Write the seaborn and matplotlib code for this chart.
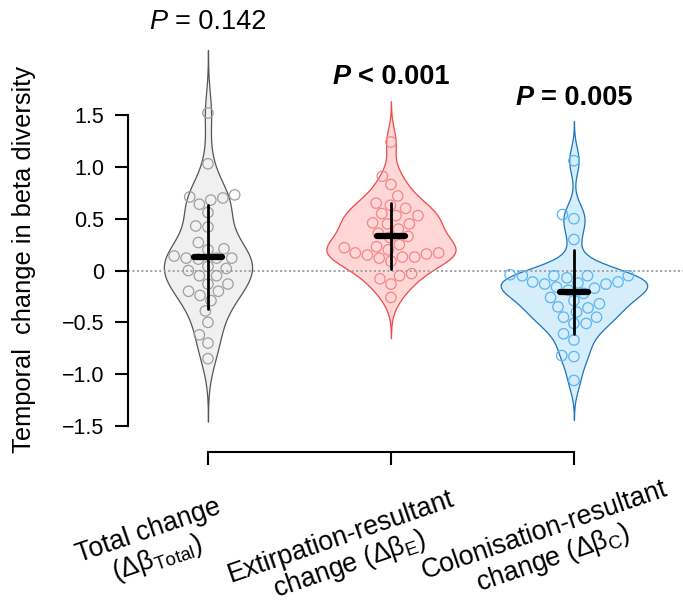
import numpy as np
import pandas as pd
import matplotlib
matplotlib.use("Agg")
import matplotlib.pyplot as plt
import seaborn as sns
from matplotlib.markers import MarkerStyle
from matplotlib.offsetbox import TextArea, HPacker, AnnotationBbox
from matplotlib.transforms import ScaledTranslation

# ---------------------------------------------------------------------------
# Data
# ---------------------------------------------------------------------------
groups = ["Total", "Extirpation", "Colonisation"]
tick_labels = [
    "Total change\n(Δβ$_{\\mathrm{Total}}$)",
    "Extirpation-resultant\nchange (Δβ$_{\\mathrm{E}}$)",
    "Colonisation-resultant\nchange (Δβ$_{\\mathrm{C}}$)",
]

total_change = [1.52, 1.03, 0.71, 0.64, 0.68, 0.70, 0.73, 0.56, 0.43, 0.42,
                0.27, 0.20, 0.21, 0.12, 0.11, 0.02, 0.12, 0.14, 0.12, 0.04,
                0.00, -0.05, -0.05, -0.13, -0.13, -0.24, -0.20, -0.29, -0.20,
                -0.39, -0.50, -0.62, -0.70, -0.85]
extirpation_change = [1.24, 0.91, 0.83, 0.72, 0.60, 0.55, 0.53, 0.45, 0.63,
                      0.65, 0.53, 0.45, 0.46, 0.40, 0.36, 0.32, 0.33, 0.23,
                      0.16, 0.12, 0.13, 0.17, 0.20, 0.13, 0.22, 0.15, 0.09,
                      0.25, 0.17, -0.03, -0.05, -0.08, -0.13, -0.26]
colonisation_change = [1.06, 0.54, 0.50, 0.30, -0.05, -0.04, -0.07, -0.05,
                       -0.12, -0.16, -0.17, -0.13, -0.13, -0.22, -0.19, -0.11,
                       -0.05, -0.05, -0.11, -0.26, -0.29, -0.32, -0.35, -0.36,
                       -0.40, -0.51, -0.45, -0.51, -0.45, -0.61, -0.67, -0.82,
                       -0.83, -1.06]

p_signs = ["=", "<", "="]
p_values = ["0.142", "0.001", "0.005"]
p_bold = [False, True, True]

yticks = [-1.5, -1.0, -0.5, 0, 0.5, 1.0, 1.5]

# styling
fill_colors = ["#f0f0f0", "#ffd7d7", "#d6edfc"]
edge_colors = ["#555555", "#f04848", "#1b74bd"]
point_colors = ["#9f9f9f", "#f58686", "#5ab6f3"]

df = pd.DataFrame({
    "group": np.repeat(groups, [len(total_change), len(extirpation_change),
                                len(colonisation_change)]),
    "value": np.concatenate([total_change, extirpation_change,
                             colonisation_change]),
})


def nrd0(kde):
    # Silverman's rule of thumb (as in R's bw.nrd0), returned as a factor
    x = kde.dataset[0]
    sd = np.std(x, ddof=1)
    iqr = np.subtract(*np.percentile(x, [75, 25]))
    h = 0.9 * min(sd, iqr / 1.34) * len(x) ** -0.2
    return h / sd


sns.set_style("ticks")
plt.rcParams["font.family"] = ["Liberation Sans", "DejaVu Sans"]
plt.rcParams["mathtext.fontset"] = "custom"
plt.rcParams["mathtext.rm"] = "Liberation Sans"
plt.rcParams["mathtext.it"] = "Liberation Sans:italic"
plt.rcParams["mathtext.bf"] = "Liberation Sans:bold"
for key in ["text.color", "axes.labelcolor", "xtick.color", "ytick.color"]:
    plt.rcParams[key] = "black"

fig = plt.figure(figsize=(6.83, 6.0), dpi=100)
ax = fig.add_axes([0.1874, 0.2813, 0.8126, 0.6565])

# violins
sns.violinplot(data=df, x="group", y="value", hue="group", palette=fill_colors,
               legend=False, inner=None, cut=3, bw_method=nrd0,
               density_norm="area", common_norm=True, width=0.8,
               linewidth=0.9, saturation=1, ax=ax)
for coll, ec in zip(ax.collections, edge_colors):
    coll.set_edgecolor(ec)

# zero line
ax.axhline(0, color="#a0a0a0", linestyle=(0, (1, 1.3)), linewidth=1.4,
           zorder=2.5)

# points (hollow)
n0 = len(ax.collections)
sns.swarmplot(data=df, x="group", y="value", hue="group", palette=point_colors,
              legend=False, size=7.5, zorder=3, ax=ax)
for coll in ax.collections[n0:]:
    fc = coll.get_facecolors()
    coll.set_edgecolors(fc)
    coll.set_facecolors("none")
    coll.set_linewidths(0.9)

# mean +/- sd
sns.pointplot(data=df, x="group", y="value", errorbar="sd", color="black",
              marker=MarkerStyle("_", capstyle="round"), markersize=20,
              markeredgewidth=4.5, linestyle="none", zorder=5,
              err_kws={"linewidth": 2, "zorder": 4}, ax=ax)

# axes
ax.set_xlim(-0.437, 2.596)
ax.set_ylim(-1.55, 2.25)
ax.set_yticks(yticks)
ax.set_xticks([0, 1, 2])
for s in ["left", "bottom"]:
    ax.spines[s].set_linewidth(1.5)
    ax.spines[s].set_color("black")
sns.despine(ax=ax, trim=True, offset={"bottom": 15})

ax.set_yticks(yticks)
ax.set_yticklabels(["0" if v == 0 else f"{v:.1f}".replace("-", "\u2212")
                    for v in yticks], fontsize=15.5)
ax.set_xticks([0, 1, 2])
ax.set_xticklabels(tick_labels, rotation=19, ha="right",
                   rotation_mode="anchor", multialignment="center",
                   linespacing=1.05, fontsize=19.3)
ax.set_xlabel("")
ax.set_ylabel("Temporal  change in beta diversity", fontsize=18.3)
ax.yaxis.set_label_coords(-0.166, 0.437)
ax.tick_params(axis="both", length=9.4, width=1.5, color="black")
ax.tick_params(axis="y", pad=7.5)
ax.tick_params(axis="x", pad=2)

# shift rotated tick labels (pixels at 100 dpi)
label_shift = [(8, 26), (58, 18.5), (88, 8.5)]
for lbl, (dx, dy) in zip(ax.get_xticklabels(), label_shift):
    lbl.set_transform(lbl.get_transform()
                      + ScaledTranslation(dx / 100, -dy / 100,
                                          fig.dpi_scale_trans))

# P values
p_y = [2.40, 1.87, 1.66]
for i, (sign, val, bold) in enumerate(zip(p_signs, p_values, p_bold)):
    weight = "bold" if bold else "normal"
    parts = [
        TextArea("P", textprops=dict(fontsize=19.5, style="italic",
                                     fontweight=weight)),
        TextArea(f"{sign} {val}", textprops=dict(fontsize=19.5,
                                                 fontweight=weight)),
    ]
    box = HPacker(children=parts, pad=0, sep=5.4, align="baseline")
    ab = AnnotationBbox(box, (i, p_y[i]), xycoords="data", frameon=False,
                        box_alignment=(0.5, 0.5), annotation_clip=False,
                        pad=0)
    ax.add_artist(ab)

fig.savefig("out.png", dpi=100)
